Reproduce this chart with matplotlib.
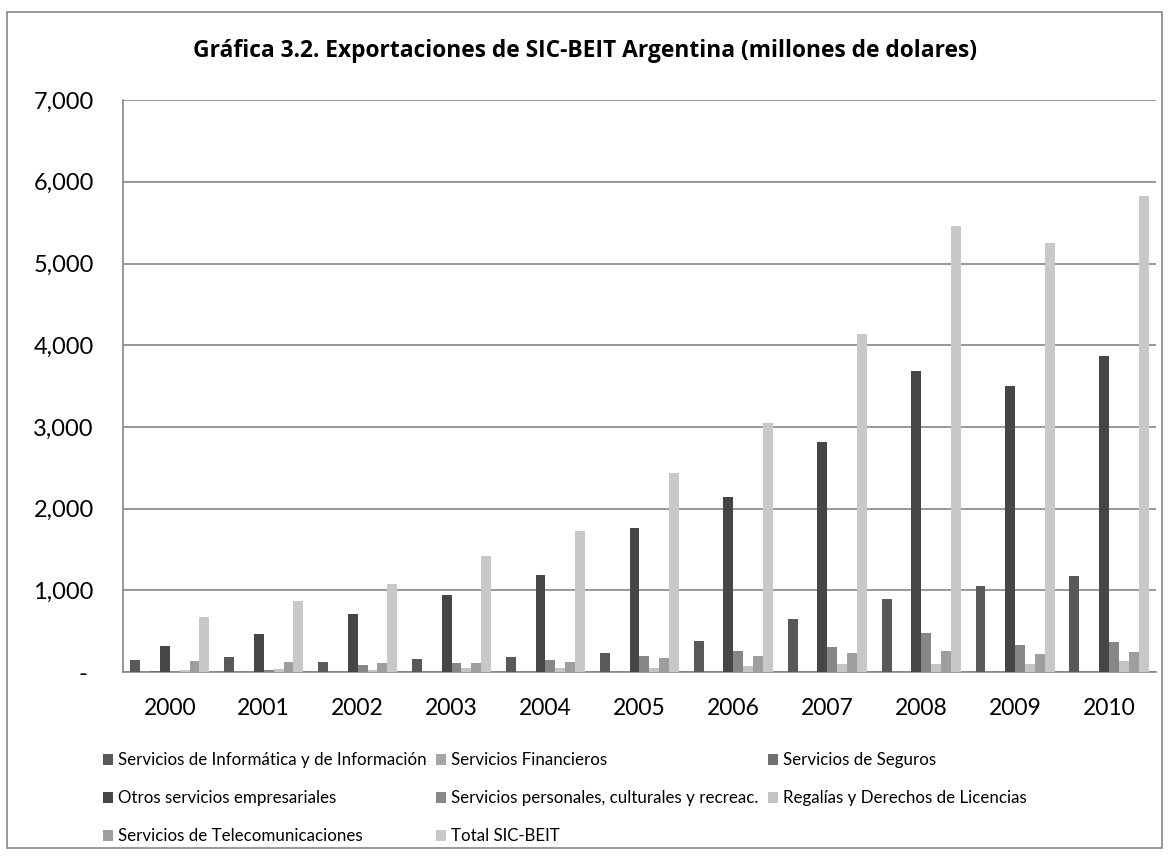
import numpy as np
import matplotlib.pyplot as plt
from matplotlib.patches import Rectangle
from matplotlib.ticker import FuncFormatter

plt.rcParams['font.family'] = ['Lato', 'DejaVu Sans']

anios = ['2000', '2001', '2002', '2003', '2004', '2005', '2006', '2007', '2008', '2009', '2010']

informatica = [145, 185, 122, 160, 188, 235, 375, 653, 890, 1052, 1178]
financieros = [3, 3, 3, 3, 3, 3, 3, 3, 3, 3, 3]
seguros = [8, 6, 6, 6, 6, 6, 6, 6, 6, 6, 6]
otros = [318, 465, 710, 948, 1190, 1768, 2138, 2815, 3685, 3500, 3873]
personales = [12, 28, 86, 116, 151, 200, 255, 310, 480, 329, 372]
regalias = [28, 40, 30, 45, 52, 49, 71, 100, 95, 98, 132]
telecom = [135, 127, 106, 116, 118, 167, 202, 233, 261, 226, 243]
total = [677, 869, 1073, 1415, 1730, 2431, 3049, 4137, 5453, 5254, 5826]

series = [informatica, financieros, seguros, otros, personales, regalias, telecom, total]
nombres = ['Servicios de Informática y de Información', 'Servicios Financieros',
           'Servicios de Seguros', 'Otros servicios empresariales',
           'Servicios personales, culturales y recreac.', 'Regalías y Derechos de Licencias',
           'Servicios de Telecomunicaciones', 'Total SIC-BEIT']
colores = ['#595959', '#a6a6a6', '#707070', '#464646', '#878787', '#c4c4c4', '#9e9e9e', '#c8c8c8']

fig = plt.figure(figsize=(11.7, 8.6), dpi=100)
ax = fig.add_axes([0.105, 0.2186, 0.883, 0.665])

x = np.arange(len(anios))
w = 1 / 9.5
barras = []
for i in range(len(series)):
    b = ax.bar(x + (i - 3.5) * w, series[i], w, color=colores[i], zorder=3)
    barras.append(b)

ax.set_xlim(-0.5, len(anios) - 0.5)
ax.set_ylim(0, 7000)
ax.set_yticks(range(0, 7001, 1000))
ax.yaxis.set_major_formatter(FuncFormatter(lambda v, p: '- ' if v == 0 else f'{int(v):,}'))
ax.set_xticks(x)
ax.set_xticklabels(anios)
ax.tick_params(axis='y', length=0, pad=21, labelsize=17)
ax.tick_params(axis='x', length=0, pad=19, labelsize=16.5)
ax.grid(axis='y', color='#868686', linewidth=1.2, zorder=0)
for s in ['top', 'right']:
    ax.spines[s].set_visible(False)
for s in ['left', 'bottom']:
    ax.spines[s].set_color('#868686')
    ax.spines[s].set_linewidth(1.2)

fig.text(0.5, 0.941, 'Gráfica 3.2. Exportaciones de SIC-BEIT Argentina (millones de dolares)',
         ha='center', va='center', fontsize=16.4, fontweight='bold', family=['Open Sans', 'DejaVu Sans'])

# Excel ordena la leyenda por filas
orden = [0, 3, 6, 1, 4, 7, 2, 5]
fig.legend([barras[i] for i in orden], [nombres[i] for i in orden], ncol=3,
           loc='upper left', bbox_to_anchor=(0.082, 0.133), frameon=False,
           fontsize=12.2, handlelength=0.6, handleheight=0.6, handletextpad=0.3,
           columnspacing=0.55, labelspacing=1.3, borderaxespad=0)

fig.patches.append(Rectangle((7 / 1170, 12 / 860), 1155 / 1170, 836 / 860,
                             transform=fig.transFigure, fill=False,
                             edgecolor='#868686', linewidth=1.2))

plt.savefig('out.png', dpi=100)
